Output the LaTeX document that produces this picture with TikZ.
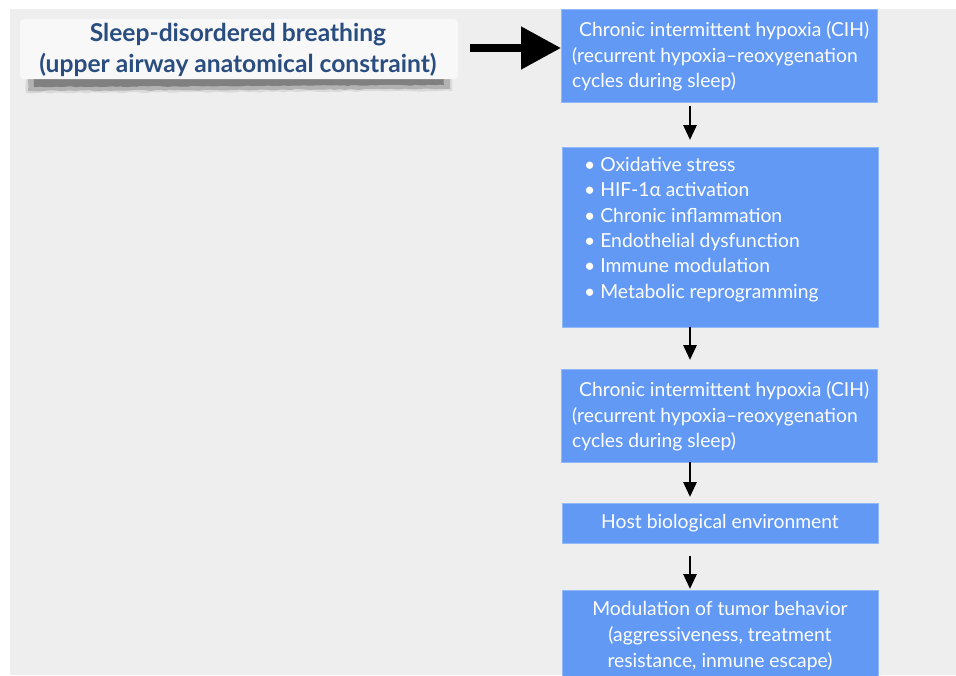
\documentclass[tikz,border=0pt]{standalone}
\usepackage{fontspec}
\setmainfont{Lato}
\usetikzlibrary{arrows.meta,calc,decorations.pathmorphing,positioning}
\definecolor{boxblue}{RGB}{98,153,245}
\definecolor{titleblue}{RGB}{42,77,128}
\definecolor{bggrey}{RGB}{238,238,238}

\begin{document}
\begin{tikzpicture}[x=1pt,y=-1pt,
  bluebox/.style={fill=boxblue, draw=boxblue!70!white, line width=0.6pt, inner sep=0pt, outer sep=0pt, text=white, align=center,
    font=\fontsize{19.3}{25.6}\selectfont},
  boxtext/.style={text=white, font=\fontsize{19.3}{25.4}\selectfont, align=left, inner sep=0pt},
  downarrow/.style={line width=2.8pt, -{Triangle[length=15pt,width=13pt]}}]

    % Hintergrund
    \fill[white] (0,0) rectangle (956,675);
    \fill[bggrey] (10,9) rectangle (956,675);
    \useasboundingbox (0,0) rectangle (956,675);
    \clip (0,0) rectangle (956,675);

    % Titelkarte mit Schatten
    \fill[black!15, decorate, decoration={random steps, segment length=6pt, amplitude=0.8pt}]
      (26,76) -- (452,75) -- (452,91) -- (26,93) -- cycle;
    \fill[black!30, decorate, decoration={random steps, segment length=5pt, amplitude=0.6pt}]
      (28,77) -- (450,76) -- (450,89) -- (28,91) -- cycle;
    \fill[black!50, decorate, decoration={random steps, segment length=4pt, amplitude=0.5pt}]
      (34,78) -- (444,78) -- (444,85) -- (34,87) -- cycle;
    \node[fill=white!60!bggrey, rounded corners=4pt, minimum width=438pt, minimum height=60pt,
      anchor=north west, inner sep=0pt] (card) at (20,19) {};
    \node[text=titleblue, font=\fontsize{24.6}{31}\bfseries, align=center] (title)
      at (238,50) {Sleep-disordered breathing\\(upper airway anatomical constraint)};

    % Kaesten
    \coordinate (axis) at (690,0);
    \node[bluebox, minimum width=316pt, minimum height=93pt, anchor=north west] (cih) at (561,9) {};
    \node[boxtext, anchor=west] (cihtxt) at ([xshift=11pt,yshift=-1pt]cih.west)
      {\hspace*{7pt}Chronic intermittent hypoxia (CIH)\\(recurrent hypoxia–reoxygenation\\cycles during sleep)};

    \node[bluebox, minimum width=316pt, minimum height=180pt, anchor=north west] (mech) at (562,147) {};
    \node[boxtext, anchor=west] (mechtxt) at ([xshift=22pt,yshift=7.5pt]mech.west)
      {\textbullet\ Oxidative stress\\\textbullet\ HIF-1α activation\\\textbullet\ Chronic inflammation\\
       \textbullet\ Endothelial dysfunction\\\textbullet\ Immune modulation\\\textbullet\ Metabolic reprogramming};

    \node[bluebox, minimum width=316pt, minimum height=93pt, anchor=north west] (cihb) at (561,369) {};
    \node[boxtext, anchor=west] (cihbtxt) at ([xshift=11pt,yshift=-1pt]cihb.west)
      {\hspace*{7pt}Chronic intermittent hypoxia (CIH)\\(recurrent hypoxia–reoxygenation\\cycles during sleep)};

    \node[bluebox, minimum width=316pt, minimum height=40pt, anchor=north west] (host) at (562,503)
      {Host biological environment};

    \node[bluebox, minimum width=316pt, minimum height=92pt, anchor=north west] (tumor) at (562,590)
      {Modulation of tumor behavior\\(aggressiveness, treatment\\resistance, inmune escape)};

    % Pfeile
    \draw[line width=8pt, -{Triangle[length=40pt,width=41pt]}, shorten <=12pt]
      (card.east |- 0,48) -- (cih.west |- 0,48);
    \draw[downarrow, shorten <=4pt, shorten >=7pt] (cih.south -| axis) -- (mech.north -| axis);
    \draw[downarrow, shorten >=9pt] (mech.south -| axis) -- (cihb.north -| axis);
    \draw[downarrow, shorten >=6pt] (cihb.south -| axis) -- (host.north -| axis);
    \draw[downarrow, shorten <=13pt, shorten >=1pt] (host.south -| axis) -- (tumor.north -| axis);

  \end{tikzpicture}
\end{document}
